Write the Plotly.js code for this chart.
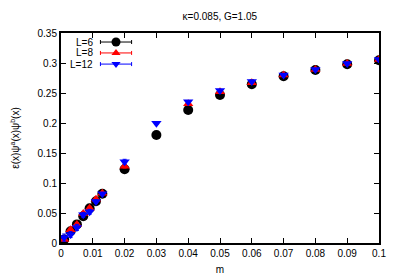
<!DOCTYPE html>
<html><head><meta charset="utf-8">
<script src="https://cdn.plot.ly/plotly-3.0.1.min.js"></script>
<style>html,body{margin:0;padding:0;background:#fff}#c{width:399px;height:279px}</style>
</head><body><div id="c"></div>
<script>
const mL6 = [0.001,0.003,0.005,0.007,0.009,0.011,0.013,0.02,0.03,0.04,0.05,0.06,0.07,0.08,0.09,0.1];
const yL6 = [0.006,0.0195,0.031,0.0445,0.058,0.0695,0.082,0.1228,0.180,0.2217,0.2467,0.2645,0.278,0.2883,0.298,0.3045];
const eL6 = [0.003,0.003,0.003,0.003,0.003,0.003,0.002,0.002,0.002,0.002,0.002,0.002,0.002,0.002,0.002,0.002];
const mL8 = [0.001,0.003,0.005,0.007,0.009,0.011,0.013,0.02,0.04,0.05,0.06,0.07,0.08,0.09,0.1];
const yL8 = [0.006,0.022,0.031,0.049,0.058,0.073,0.083,0.128,0.232,0.252,0.267,0.280,0.289,0.299,0.306];
const eL8 = [0.003,0.003,0.003,0.003,0.003,0.003,0.002,0.003,0.002,0.002,0.002,0.002,0.002,0.002,0.002];
const mL12 = [0.001,0.003,0.005,0.007,0.009,0.011,0.013,0.02,0.03,0.04,0.05,0.06,0.07,0.08,0.09,0.1];
const yL12 = [0.009,0.014,0.026,0.047,0.052,0.069,0.082,0.1355,0.1995,0.2355,0.254,0.269,0.280,0.289,0.299,0.306];
const eL12 = [0.006,0.005,0.005,0.004,0.004,0.003,0.002,0.004,0.002,0.002,0.002,0.002,0.002,0.002,0.002,0.002];
const seriesNames = ['L=6','L=8','L=12'];
const colors = ['#000000','#ff0000','#0000ff'];
const symbols = ['circle','triangle-up','triangle-down'];
const sizes = [10,9,9];
const xTicks = [0,0.01,0.02,0.03,0.04,0.05,0.06,0.07,0.08,0.09,0.1];
const xTickText = ['0','0.01','0.02','0.03','0.04','0.05','0.06','0.07','0.08','0.09','0.1'];
const yTicks = [0,0.05,0.1,0.15,0.2,0.25,0.3,0.35];
const yTickText = ['0','0.05','0.1','0.15','0.2','0.25','0.3','0.35'];

const xs=[mL6,mL8,mL12], ys=[yL6,yL8,yL12], es=[eL6,eL8,eL12];
const traces=[];
for(let i=0;i<3;i++){
  traces.push({x:xs[i],y:ys[i],type:'scatter',mode:'markers',name:seriesNames[i],showlegend:false,
    marker:{color:colors[i],symbol:symbols[i],size:sizes[i],line:{width:0}},
    error_y:{type:'data',array:es[i],visible:true,color:colors[i],thickness:1,width:2}});
}
// manual gnuplot-style legend on an overlay axis
const legY=[0.957,0.905,0.852];
for(let i=0;i<3;i++){
  traces.push({x:[0.173],y:[legY[i]],xaxis:'x2',yaxis:'y2',type:'scatter',mode:'markers',showlegend:false,hoverinfo:'skip',
    marker:{color:colors[i],symbol:symbols[i],size:sizes[i]-1,line:{width:0}},
    error_x:{type:'constant',value:0.049,visible:true,color:colors[i],thickness:1,width:2}});
}
const ann=[];
for(let i=0;i<3;i++){
  ann.push({xref:'paper',yref:'paper',x:0.107,y:legY[i],xanchor:'right',yanchor:'middle',text:seriesNames[i],showarrow:false,
    font:{family:'Liberation Sans, Arial, sans-serif',size:10,color:'#000'}});
}
const font={family:'Liberation Sans, Arial, sans-serif',size:10,color:'#000'};
const layout={
  width:399,height:279,margin:{l:61,r:20,t:33,b:36},paper_bgcolor:'#fff',plot_bgcolor:'#fff',
  font:font,showlegend:false,
  title:{text:'κ=0.085, G=1.05',x:0.551,xanchor:'center',y:0.94,yanchor:'middle',font:font},
  xaxis:{range:[0,0.1],tickvals:xTicks,ticktext:xTickText,ticks:'inside',ticklen:5,tickwidth:1,tickcolor:'#000',
    showline:true,linewidth:2,linecolor:'#000',mirror:'ticks',showgrid:false,zeroline:false,
    title:{text:'m',font:font,standoff:8},tickfont:font},
  yaxis:{range:[0,0.35],tickvals:yTicks,ticktext:yTickText,ticks:'inside',ticklen:5,tickwidth:1,tickcolor:'#000',
    showline:true,linewidth:2,linecolor:'#000',mirror:'ticks',showgrid:false,zeroline:false,
    title:{text:'ε(x)ψ<sup>a</sup>(x)ψ<sup>b</sup>(x)',font:font,standoff:16},tickfont:font},
  xaxis2:{range:[0,1],overlaying:'x',visible:false,fixedrange:true},
  yaxis2:{range:[0,1],overlaying:'y',visible:false,fixedrange:true},
  annotations:ann
};
Plotly.newPlot('c',traces,layout,{staticPlot:true,displayModeBar:false});
</script></body></html>
